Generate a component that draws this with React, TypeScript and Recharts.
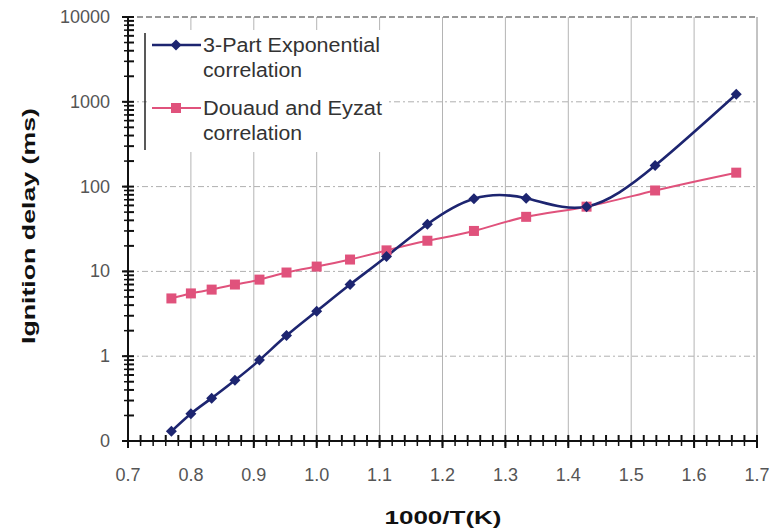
import { LineChart, Line, XAxis, YAxis, ReferenceLine } from "recharts";

const invT = [0.769, 0.8, 0.833, 0.87, 0.909, 0.952, 1.0, 1.053, 1.111, 1.176, 1.25, 1.333, 1.429, 1.538, 1.667];
const threePart = [0.13, 0.21, 0.32, 0.52, 0.9, 1.75, 3.4, 7.0, 15, 36, 72, 73, 58, 177, 1230];
const douaud = [4.8, 5.5, 6.1, 7.0, 8.0, 9.7, 11.4, 13.8, 17.7, 23, 30, 44, 58, 90, 146];

const xMajor = [0.7, 0.8, 0.9, 1.0, 1.1, 1.2, 1.3, 1.4, 1.5, 1.6, 1.7];
const xLabels = ["0.7", "0.8", "0.9", "1.0", "1.1", "1.2", "1.3", "1.4", "1.5", "1.6", "1.7"];
const yMajor = [0.1, 1, 10, 100, 1000, 10000];
const yLabels = ["0", "1", "10", "100", "1000", "10000"];
const yMinorSteps = [2, 3, 4, 5, 6, 7, 8, 9];

const xMinor: number[] = [];
for (let i = 0; i <= 50; i++) xMinor.push(Math.round((0.7 + i * 0.02) * 1000) / 1000);
const yMinor: number[] = [];
yMajor.slice(0, -1).forEach((d) => yMinorSteps.forEach((m) => yMinor.push(d * m)));

const data = invT.map((x, i) => ({ x, a: threePart[i], b: douaud[i] }));

const BLUE = "#1d2570";
const PINK = "#e0527c";
const LABEL = "#555";
const PLOT_LEFT = 128;
const PLOT_BOTTOM = 441;

function XTick(props: any) {
  const { x, payload } = props;
  const idx = xMajor.findIndex((v) => Math.abs(v - payload.value) < 1e-6);
  const major = idx >= 0;
  return (
    <g>
      <rect x={x - 1} y={PLOT_BOTTOM - 6} width={2} height={major ? 13 : 6} fill="#111" />
      {major && (
        <text x={x} y={PLOT_BOTTOM + 40} textAnchor="middle" fontSize={18} fill={LABEL}>
          {xLabels[idx]}
        </text>
      )}
    </g>
  );
}

function YTick(props: any) {
  const { y, payload } = props;
  const idx = yMajor.findIndex((v) => Math.abs(v - payload.value) / v < 1e-6);
  const major = idx >= 0;
  return (
    <g>
      <rect x={PLOT_LEFT - (major ? 6 : 0)} y={y - 1} width={major ? 12 : 6} height={2} fill="#111" />
      {major && (
        <text x={PLOT_LEFT - 18} y={y + 6} textAnchor="end" fontSize={18} fill={LABEL}>
          {yLabels[idx]}
        </text>
      )}
    </g>
  );
}

function Diamond(props: any) {
  const { cx, cy } = props;
  if (cx == null || cy == null) return null;
  return <polygon points={`${cx},${cy - 5.5} ${cx + 5.5},${cy} ${cx},${cy + 5.5} ${cx - 5.5},${cy}`} fill={BLUE} />;
}

function Square(props: any) {
  const { cx, cy } = props;
  if (cx == null || cy == null) return null;
  return <rect x={cx - 5} y={cy - 5} width={10} height={10} fill={PINK} />;
}

export default function App() {
  return (
    <div style={{ position: "absolute", left: 0, top: 0, width: 771, height: 530, background: "#fff", fontFamily: "'Liberation Sans', Arial, sans-serif" }}>
      <LineChart width={771} height={530} data={data} margin={{ top: 17, right: 14, bottom: 0, left: 0 }}>
        {xMajor.slice(1, -1).map((v) => (
          <ReferenceLine key={"vx" + v} x={v} stroke="#b4b4b4" strokeWidth={1} />
        ))}
        {yMajor.slice(1, -1).map((v) => (
          <ReferenceLine key={"hy" + v} y={v} stroke="#b0b0b0" strokeDasharray="6 3 2 3" />
        ))}
        <ReferenceLine y={10000} stroke="#333" strokeDasharray="6 3" />
        <ReferenceLine x={1.7} stroke="#888" />
        <XAxis
          dataKey="x"
          type="number"
          domain={[0.7, 1.7]}
          ticks={xMinor}
          interval={0}
          height={89}
          tickSize={5}
          tickLine={{ stroke: "#111", strokeWidth: 1.5 }}
          tick={<XTick />}
          axisLine={{ stroke: "#111", strokeWidth: 2 }}
        />
        <YAxis
          type="number"
          scale="log"
          domain={[0.1, 10000]}
          ticks={[...yMajor, ...yMinor].sort((a, b) => a - b)}
          interval={0}
          width={128}
          tickSize={4}
          tickLine={{ stroke: "#111", strokeWidth: 1.5 }}
          tick={<YTick />}
          axisLine={{ stroke: "#111", strokeWidth: 2 }}
          allowDataOverflow
        />
        <Line dataKey="b" type="natural" stroke={PINK} strokeWidth={2} dot={<Square />} isAnimationActive={false} />
        <Line dataKey="a" type="natural" stroke={BLUE} strokeWidth={2.6} dot={<Diamond />} isAnimationActive={false} />
      </LineChart>
      <svg width={771} height={530} style={{ position: "absolute", left: 0, top: 0, pointerEvents: "none" }}>
        <rect x={147} y={30} width={240} height={122} fill="#fff" />
        <line x1={145} x2={145} y1={33} y2={150} stroke="#222" strokeWidth={1.5} />
        <line x1={152} x2={201} y1={45} y2={45} stroke={BLUE} strokeWidth={2.4} />
        <polygon points="176,39.5 181.5,45 176,50.5 170.5,45" fill={BLUE} />
        <text x={203} y={52} fontSize={20} fill="#333" textLength={177} lengthAdjust="spacingAndGlyphs">3-Part Exponential</text>
        <text x={203} y={77} fontSize={20} fill="#333" textLength={99} lengthAdjust="spacingAndGlyphs">correlation</text>
        <line x1={152} x2={201} y1={108} y2={108} stroke={PINK} strokeWidth={2} />
        <rect x={171} y={103} width={10} height={10} fill={PINK} />
        <text x={203} y={115} fontSize={20} fill="#333" textLength={179} lengthAdjust="spacingAndGlyphs">Douaud and Eyzat</text>
        <text x={203} y={140} fontSize={20} fill="#333" textLength={99} lengthAdjust="spacingAndGlyphs">correlation</text>
        <text x={443} y={524} textAnchor="middle" fontSize={19} fontWeight="bold" fill="#111" textLength={117} lengthAdjust="spacingAndGlyphs">
          1000/T(K)
        </text>
        <text x={35} y={226} textAnchor="middle" fontSize={19} fontWeight="bold" fill="#111" transform="rotate(-90 35 226)" textLength={236} lengthAdjust="spacingAndGlyphs">
          Ignition delay (ms)
        </text>
      </svg>
    </div>
  );
}
